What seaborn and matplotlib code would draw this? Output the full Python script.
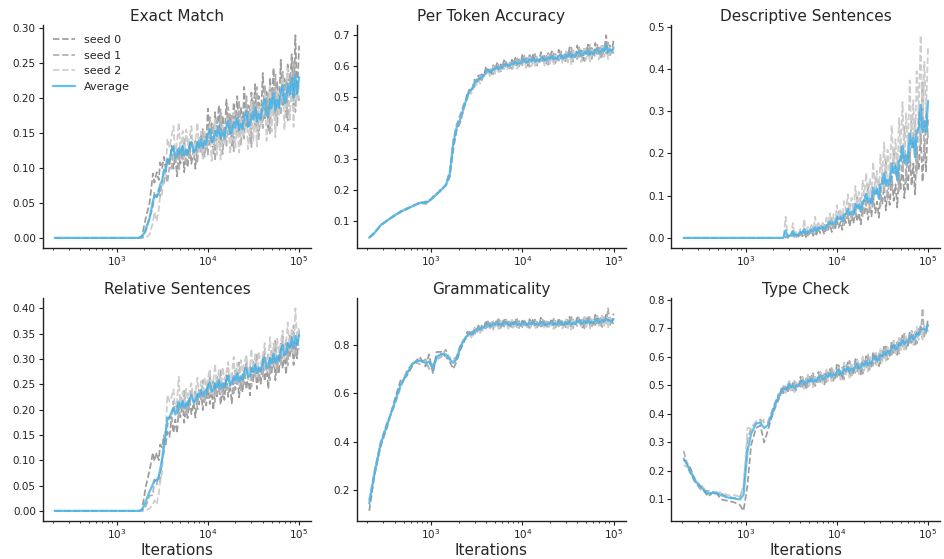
import numpy as np
import pandas as pd
import matplotlib
matplotlib.use("Agg")
import matplotlib.pyplot as plt
import seaborn as sns

# ---------------------------------------------------------------------------
# Training iterations at which each metric was evaluated
# ---------------------------------------------------------------------------
iterations = [
    210, 240, 280, 330, 390, 460, 540, 640, 750, 870,
    950, 1050, 1150, 1300, 1450, 1600, 1750, 1900, 2100, 2300,
    2500, 2600, 2750, 2900, 3000, 3150, 3300, 3450, 3600, 3800,
    4000, 4200, 4400, 4600, 4800, 5000, 5300, 5500, 5800, 6000,
    6300, 6600, 7000, 7300, 7700, 8000, 8400, 8800, 9200, 9600,
    10000, 10500, 11000, 11500, 12000, 12600, 13200, 13800, 14500, 15200,
    16000, 16700, 17500, 18300, 19200, 20000, 21000, 22000, 23000, 24000,
    25000, 26500, 27500, 29000, 30000, 31500, 33000, 34500, 36000, 38000,
    40000, 42000, 44000, 46000, 48000, 50000, 52500, 55000, 57500, 60000,
    63000, 66000, 69000, 72000, 75000, 79000, 83000, 87000, 91000, 95000,
    100000,
]

titles = ["Exact Match", "Per Token Accuracy", "Descriptive Sentences",
          "Relative Sentences", "Grammaticality", "Type Check"]
seed_names = ["seed 0", "seed 1", "seed 2"]

# ---------------------------------------------------------------------------
# Exact Match
# ---------------------------------------------------------------------------
exact_match_seed0 = [
    0, 0, 0, 0, 0, 0, 0, 0, 0, 0,
    0, 0, 0, 0, 0, 0, 0, 0.003, 0.03, 0.05,
    .092, .079, .094, .083, .108, .100, .116, .098, .115, .103,
    .132, .099, .117, .088, .125, .106, .131, .094, .122, .101,
    .137, .106, .126, .099, .138, .121, .150, .117, .149, .132,
    .185, .134, .164, .119, .180, .150, .190, .131, .175, .141,
    .198, .148, .177, .132, .194, .163, .203, .144, .187, .153,
    .216, .157, .190, .139, .208, .174, .220, .154, .203, .165,
    .236, .171, .209, .151, .230, .191, .243, .168, .224, .181,
    .255, .190, .228, .171, .250, .211, .263, .188, .290, .201,
    .275,
]
exact_match_seed1 = [
    0, 0, 0, 0, 0, 0, 0, 0, 0, 0,
    0, 0, 0, 0, 0, 0, 0, 0, 0.01, 0.03,
    .043, .066, .058, .071, .058, .082, .075, .097, .079, .101,
    .097, .132, .110, .127, .096, .133, .112, .144, .103, .126,
    .112, .146, .123, .139, .107, .143, .123, .156, .116, .140,
    .119, .173, .136, .162, .110, .168, .134, .184, .120, .156,
    .132, .187, .149, .175, .124, .181, .147, .197, .132, .168,
    .142, .203, .160, .189, .130, .196, .158, .216, .141, .183,
    .157, .219, .177, .206, .148, .214, .176, .234, .160, .202,
    .176, .238, .196, .226, .168, .234, .196, .254, .180, .222,
    .196,
]
exact_match_seed2 = [
    0, 0, 0, 0, 0, 0, 0, 0, 0, 0,
    0, 0, 0, 0, 0, 0, 0, 0, 0, 0.005,
    .022, .037, .024, .041, .062, .062, .100, .090, .142, .129,
    .145, .160, .118, .138, .165, .123, .153, .115, .155, .133,
    .145, .160, .118, .138, .165, .123, .152, .113, .152, .129,
    .141, .160, .110, .135, .169, .119, .156, .112, .161, .135,
    .151, .170, .120, .145, .179, .129, .166, .122, .171, .145,
    .163, .185, .127, .156, .195, .138, .182, .131, .188, .159,
    .179, .205, .139, .172, .218, .152, .202, .144, .210, .176,
    .199, .228, .154, .192, .243, .169, .225, .159, .233, .195,
    .219,
]

# ---------------------------------------------------------------------------
# Per Token Accuracy
# ---------------------------------------------------------------------------
per_token_seed0 = [
    .046, .062, .083, .102, .113, .130, .136, .150, .155, .162,
    .160, .178, .183, .205, .212, .240, .330, .390, .420, .465,
    .516, .511, .533, .527, .557, .552, .570, .554, .574, .569,
    .599, .579, .593, .575, .603, .591, .610, .586, .606, .593,
    .619, .598, .612, .593, .621, .608, .627, .602, .622, .608,
    .639, .610, .626, .601, .636, .618, .641, .608, .632, .613,
    .646, .616, .633, .608, .642, .625, .648, .615, .639, .620,
    .653, .624, .640, .615, .650, .632, .661, .619, .650, .626,
    .667, .630, .651, .619, .663, .641, .670, .628, .659, .634,
    .675, .639, .660, .628, .672, .650, .700, .636, .667, .643,
    .684,
]
per_token_seed1 = [
    .044, .058, .087, .098, .117, .126, .140, .146, .160, .157,
    .166, .172, .188, .196, .218, .260, .360, .410, .445, .480,
    .493, .524, .523, .541, .533, .557, .550, .572, .554, .573,
    .571, .596, .581, .594, .573, .599, .586, .609, .583, .600,
    .591, .615, .600, .612, .591, .616, .603, .625, .599, .615,
    .603, .634, .612, .627, .598, .630, .611, .640, .602, .623,
    .610, .640, .619, .634, .604, .637, .618, .647, .609, .630,
    .617, .648, .626, .641, .612, .648, .624, .660, .614, .640,
    .623, .661, .634, .653, .616, .657, .633, .669, .623, .648,
    .631, .670, .643, .662, .625, .666, .641, .677, .631, .657,
    .640,
]
per_token_seed2 = [
    .045, .060, .085, .100, .115, .128, .138, .148, .158, .152,
    .163, .175, .184, .200, .215, .250, .360, .400, .425, .465,
    .498, .519, .510, .530, .553, .538, .557, .544, .568, .564,
    .579, .590, .567, .581, .599, .576, .596, .575, .601, .590,
    .599, .609, .586, .599, .617, .593, .613, .591, .617, .605,
    .615, .628, .594, .611, .634, .600, .625, .596, .628, .611,
    .622, .634, .601, .618, .640, .607, .632, .603, .635, .618,
    .629, .642, .608, .625, .648, .612, .643, .606, .647, .626,
    .639, .654, .613, .634, .662, .621, .652, .615, .656, .634,
    .647, .663, .622, .643, .671, .630, .660, .623, .664, .643,
    .656,
]

# ---------------------------------------------------------------------------
# Descriptive Sentences
# ---------------------------------------------------------------------------
descriptive_seed0 = [
    0, 0, 0, 0, 0, 0, 0, 0, 0, 0,
    0, 0, 0, 0, 0, 0, 0, 0, 0, 0,
    0, 0, .003, 0, .006, .003, .009, 0, .008, .003,
    .014, .004, .011, .002, .015, .009, .018, .005, .016, .008,
    .023, .011, .020, .008, .027, .019, .033, .014, .031, .020,
    .044, .024, .038, .019, .048, .035, .057, .027, .052, .034,
    .068, .039, .059, .032, .074, .055, .085, .043, .077, .051,
    .099, .059, .086, .048, .107, .081, .123, .065, .113, .078,
    .146, .088, .127, .072, .154, .116, .175, .094, .160, .110,
    .203, .124, .176, .103, .214, .162, .243, .133, .225, .158,
    .288,
]
descriptive_seed1 = [
    0, 0, 0, 0, 0, 0, 0, 0, 0, 0,
    0, 0, 0, 0, 0, 0, 0, 0, 0, 0,
    0, 0, .001, .006, 0, .009, .004, .014, .002, .010,
    .006, .018, .010, .017, .005, .021, .012, .027, .009, .020,
    .013, .033, .022, .033, .014, .039, .026, .051, .022, .042,
    .031, .063, .043, .061, .030, .069, .048, .085, .040, .068,
    .051, .097, .069, .094, .049, .105, .074, .127, .061, .101,
    .077, .142, .102, .137, .074, .154, .110, .186, .092, .151,
    .116, .209, .150, .199, .109, .220, .158, .263, .132, .212,
    .164, .290, .209, .277, .153, .305, .222, .369, .188, .301,
    .235,
]
descriptive_seed2 = [
    0, 0, 0, 0, 0, 0, 0, 0, 0, 0,
    0, 0, 0, 0, 0, 0, 0, 0, 0, 0,
    0, 0, .050, 0, .009, .005, .035, .003, .014, .007,
    .022, .010, .045, .007, .026, .017, .031, .013, .050, .017,
    .039, .022, .036, .018, .048, .036, .058, .030, .056, .039,
    .078, .046, .069, .038, .087, .066, .103, .053, .095, .064,
    .123, .074, .109, .062, .136, .102, .154, .082, .141, .097,
    .180, .111, .159, .093, .197, .150, .226, .123, .209, .147,
    .267, .165, .234, .138, .284, .217, .322, .177, .295, .207,
    .373, .232, .326, .194, .395, .302, .480, .250, .417, .295,
    .450,
]

# ---------------------------------------------------------------------------
# Relative Sentences
# ---------------------------------------------------------------------------
relative_seed0 = [
    0, 0, 0, 0, 0, 0, 0, 0, 0, 0,
    0, 0, 0, 0, 0, 0, 0, 0.003, 0.05, 0.08,
    .115, .098, .115, .100, .131, .125, .149, .131, .156, .146,
    .185, .154, .180, .153, .202, .185, .215, .174, .206, .183,
    .225, .191, .214, .184, .230, .210, .240, .199, .231, .208,
    .255, .211, .237, .199, .251, .226, .260, .210, .248, .219,
    .268, .225, .250, .212, .265, .239, .274, .224, .262, .234,
    .283, .240, .266, .228, .281, .256, .291, .241, .279, .251,
    .306, .256, .286, .241, .303, .273, .315, .258, .303, .271,
    .330, .281, .312, .269, .332, .303, .345, .288, .333, .301,
    .360,
]
relative_seed1 = [
    0, 0, 0, 0, 0, 0, 0, 0, 0, 0,
    0, 0, 0, 0, 0, 0, 0, 0, 0.01, 0.03,
    .031, .062, .052, .071, .055, .104, .114, .165, .167, .187,
    .175, .217, .193, .215, .181, .225, .201, .237, .191, .217,
    .200, .241, .215, .236, .200, .243, .220, .258, .213, .241,
    .222, .268, .237, .259, .215, .265, .236, .279, .224, .255,
    .235, .282, .250, .272, .229, .278, .250, .293, .238, .270,
    .250, .297, .266, .288, .245, .295, .267, .310, .255, .287,
    .265, .320, .283, .309, .258, .316, .284, .336, .273, .311,
    .289, .345, .309, .337, .287, .346, .314, .366, .303, .341,
    .319,
]
relative_seed2 = [
    0, 0, 0, 0, 0, 0, 0, 0, 0, 0,
    0, 0, 0, 0, 0, 0, 0, 0, 0, 0.005,
    .012, .021, .013, .034, .058, .075, .128, .155, .229, .216,
    .225, .240, .198, .218, .265, .203, .235, .199, .241, .221,
    .235, .252, .212, .234, .263, .223, .256, .221, .264, .245,
    .261, .280, .231, .256, .290, .241, .278, .234, .284, .258,
    .274, .294, .244, .269, .304, .254, .292, .248, .298, .273,
    .289, .309, .260, .285, .320, .271, .309, .265, .315, .290,
    .308, .331, .274, .303, .343, .286, .331, .281, .340, .312,
    .332, .356, .300, .331, .372, .316, .361, .311, .400, .342,
    .362,
]

# ---------------------------------------------------------------------------
# Grammaticality
# ---------------------------------------------------------------------------
grammaticality_seed0 = [
    .115, .26, .38, .46, .56, .65, .67, .72, .75, .71,
    .76, .68, .77, .77, .75, .73, .70, .73, .78, .81,
    .853, .836, .853, .838, .869, .859, .879, .857, .879, .868,
    .901, .872, .889, .865, .900, .883, .906, .873, .897, .877,
    .909, .879, .895, .869, .903, .885, .907, .873, .897, .877,
    .906, .881, .893, .871, .905, .883, .909, .875, .894, .879,
    .911, .877, .897, .867, .901, .886, .908, .874, .898, .878,
    .910, .880, .896, .870, .905, .886, .915, .872, .903, .878,
    .919, .882, .902, .870, .913, .890, .919, .877, .907, .883,
    .923, .887, .907, .875, .918, .896, .924, .882, .912, .888,
    .928,
]
grammaticality_seed1 = [
    .16, .28, .40, .48, .54, .62, .69, .73, .72, .74,
    .70, .72, .74, .75, .78, .74, .74, .75, .80, .82,
    .826, .854, .842, .858, .840, .868, .856, .881, .857, .876,
    .866, .897, .876, .892, .863, .896, .877, .906, .868, .888,
    .874, .904, .882, .896, .866, .898, .878, .906, .868, .888,
    .872, .902, .884, .894, .868, .896, .880, .904, .870, .886,
    .874, .904, .882, .896, .866, .899, .879, .907, .869, .889,
    .875, .905, .883, .897, .868, .903, .879, .914, .868, .893,
    .876, .914, .886, .905, .867, .907, .883, .919, .872, .898,
    .880, .919, .891, .910, .872, .913, .888, .950, .877, .903,
    .885,
]
grammaticality_seed2 = [
    .16, .27, .39, .47, .55, .62, .68, .725, .735, .725,
    .73, .70, .74, .765, .75, .75, .735, .74, .79, .83,
    .835, .849, .829, .846, .867, .846, .867, .848, .876, .867,
    .879, .892, .859, .877, .900, .867, .892, .863, .895, .877,
    .887, .899, .865, .881, .903, .869, .893, .863, .895, .877,
    .885, .901, .867, .879, .901, .871, .891, .865, .893, .879,
    .887, .899, .865, .881, .903, .870, .894, .864, .896, .878,
    .888, .900, .866, .882, .905, .868, .899, .861, .902, .880,
    .893, .908, .866, .887, .914, .872, .903, .866, .906, .885,
    .897, .913, .871, .892, .919, .878, .908, .871, .911, .890,
    .902,
]

# ---------------------------------------------------------------------------
# Type Check
# ---------------------------------------------------------------------------
type_check_seed0 = [
    .24, .22, .17, .14, .11, .13, .10, .095, .09, .08,
    .06, .15, .29, .35, .36, .30, .34, .38, .42, .45,
    .495, .473, .496, .475, .514, .491, .508, .479, .508, .491,
    .530, .495, .517, .486, .531, .510, .539, .498, .529, .506,
    .547, .512, .534, .503, .548, .527, .557, .516, .548, .525,
    .572, .529, .555, .518, .571, .546, .581, .532, .570, .542,
    .592, .549, .575, .538, .591, .566, .602, .554, .593, .566,
    .617, .576, .603, .567, .621, .598, .635, .589, .629, .603,
    .655, .614, .642, .607, .662, .639, .675, .627, .666, .639,
    .690, .649, .677, .642, .697, .674, .712, .666, .708, .683,
    .736,
]
type_check_seed1 = [
    .27, .20, .16, .13, .13, .12, .12, .11, .105, .11,
    .14, .31, .35, .37, .38, .37, .37, .40, .44, .47,
    .463, .501, .486, .505, .480, .507, .482, .515, .482, .505,
    .490, .530, .504, .524, .488, .530, .506, .543, .497, .524,
    .507, .547, .521, .541, .505, .547, .524, .561, .516, .543,
    .524, .571, .540, .563, .520, .570, .542, .586, .531, .563,
    .544, .591, .560, .583, .540, .590, .563, .608, .554, .587,
    .569, .618, .588, .612, .570, .622, .596, .643, .590, .624,
    .607, .656, .627, .652, .611, .663, .636, .681, .627, .660,
    .642, .691, .662, .687, .646, .698, .673, .770, .669, .704,
    .688,
]
type_check_seed2 = [
    .22, .21, .165, .15, .12, .125, .125, .115, .115, .11,
    .15, .35, .35, .375, .37, .38, .37, .39, .43, .46,
    .479, .499, .472, .493, .520, .481, .500, .475, .512, .497,
    .510, .527, .487, .509, .538, .498, .529, .493, .534, .514,
    .527, .544, .504, .526, .555, .515, .547, .511, .553, .533,
    .548, .568, .519, .545, .580, .531, .569, .526, .576, .551,
    .568, .588, .539, .565, .600, .551, .590, .548, .599, .575,
    .593, .615, .567, .594, .630, .583, .623, .583, .635, .612,
    .631, .653, .606, .634, .671, .624, .663, .621, .672, .648,
    .666, .688, .641, .669, .706, .659, .700, .660, .714, .692,
    .712,
]

panels = [
    [exact_match_seed0, exact_match_seed1, exact_match_seed2],
    [per_token_seed0, per_token_seed1, per_token_seed2],
    [descriptive_seed0, descriptive_seed1, descriptive_seed2],
    [relative_seed0, relative_seed1, relative_seed2],
    [grammaticality_seed0, grammaticality_seed1, grammaticality_seed2],
    [type_check_seed0, type_check_seed1, type_check_seed2],
]

# ---------------------------------------------------------------------------
# Styling
# ---------------------------------------------------------------------------
sns.set_style("ticks")
plt.rcParams.update({
    "font.family": ["DejaVu Sans"],
    "xtick.labelsize": 7.5,
    "ytick.labelsize": 7.5,
    "xtick.major.size": 2.8,
    "ytick.major.size": 2.8,
    "xtick.minor.size": 1.6,
    "ytick.minor.size": 1.6,
    "xtick.major.pad": 2.0,
    "ytick.major.pad": 2.0,
    "xtick.major.width": 0.8,
    "ytick.major.width": 0.8,
    "xtick.minor.width": 0.6,
    "axes.linewidth": 1.0,
    "axes.edgecolor": "#222222",
    "xtick.color": "#222222",
    "ytick.color": "#222222",
})

seed_colors = ["#9c9c9c", "#b0b0b0", "#cdcdcd"]
avg_color = "#3cb0ea"

fig, axes = plt.subplots(2, 3, figsize=(9.45, 5.59), dpi=100)
fig.subplots_adjust(left=0.045, right=0.995, top=0.955, bottom=0.068,
                    wspace=0.17, hspace=0.225)

for i, (ax, title, seeds) in enumerate(zip(axes.flat, titles, panels)):
    ax.set_xscale("log")
    frames = []
    for name, vals in zip(seed_names, seeds):
        frames.append(pd.DataFrame({"Iterations": iterations, "value": vals, "run": name}))
    df = pd.concat(frames, ignore_index=True)
    for name, color in zip(seed_names, seed_colors):
        sub = df[df["run"] == name]
        sns.lineplot(data=sub, x="Iterations", y="value", ax=ax, color=color,
                     linestyle="--", linewidth=1.25, label=name)
    avg = df.groupby("Iterations", as_index=False)["value"].mean()
    sns.lineplot(data=avg, x="Iterations", y="value", ax=ax, color=avg_color,
                 alpha=0.8, linewidth=1.6, label="Average")

    ax.set_title(title, fontsize=11, pad=3)
    ax.set_ylabel("")
    if i >= 3:
        ax.set_xlabel("Iterations", fontsize=11, labelpad=1)
    else:
        ax.set_xlabel("")
    sns.despine(ax=ax)

    if i == 0:
        ax.legend(loc="upper left", frameon=False, fontsize=8, handlelength=2.0)
    else:
        leg = ax.get_legend()
        if leg is not None:
            leg.remove()

fig.savefig("out.png", dpi=100)
